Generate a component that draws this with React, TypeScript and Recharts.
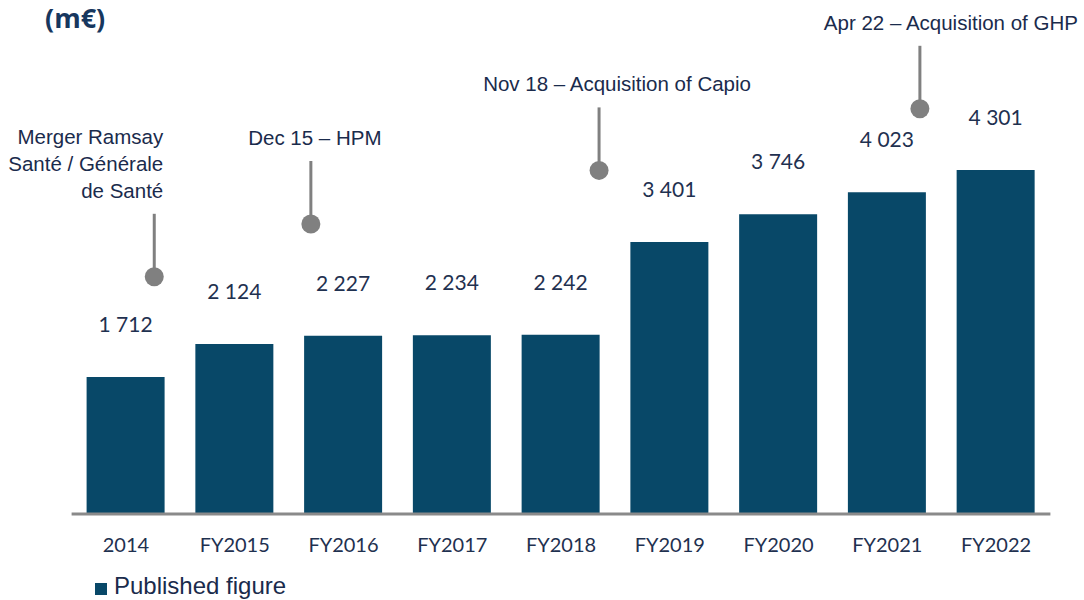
import React from "react";
import {
  ComposedChart,
  Bar,
  Scatter,
  XAxis,
  YAxis,
  LabelList,
  Legend,
} from "recharts";

// ---- Data ----
const years = ["2014", "FY2015", "FY2016", "FY2017", "FY2018", "FY2019", "FY2020", "FY2021", "FY2022"];
const revenue = [1712, 2124, 2227, 2234, 2242, 3401, 3746, 4023, 4301];

const annotationIds = ["merger", "hpm", "capio", "ghp"];
const annotationTexts = [
  ["Merger Ramsay", "Santé / Générale", "de Santé"],
  ["Dec 15 – HPM"],
  ["Nov 18 – Acquisition of Capio"],
  ["Apr 22 – Acquisition of GHP"],
];
// position on the time (category index) axis
const annotationTime = [0.26, 1.7, 4.35, 7.3];
// marker level in m€ units
const annotationLevel = [2965, 3625, 4295, 5065];

const chartData = years.map((y, i) => ({ year: y, value: revenue[i] }));
const annotationData = annotationIds.map((id, i) => ({
  id,
  text: annotationTexts[i],
  t: annotationTime[i],
  level: annotationLevel[i],
}));

// ---- Styles ----
const BAR_COLOR = "#084868";
const TEXT_NAVY = "#1F3150";
const ANNOT_TEXT = "#1A2B4C";
const GREY = "#808080";

const ANNOTATION_STYLE: Record<string, { anchor: "start" | "middle" | "end"; dx: number }> = {
  merger: { anchor: "end", dx: 9 },
  hpm: { anchor: "middle", dx: 4 },
  capio: { anchor: "middle", dx: 18 },
  ghp: { anchor: "middle", dx: 31 },
};

const formatValue = (v: any) => String(v).replace(/\B(?=(\d{3})+(?!\d))/g, " ");

const AnnotationShape = (props: any) => {
  const { cx, cy, payload } = props;
  if (cx == null || cy == null || !payload) return null;
  const st = ANNOTATION_STYLE[payload.id] || { anchor: "middle", dx: 0 };
  const lines: string[] = payload.text || [];
  const lh = 27;
  const lastBaseline = cy - 79;
  return (
    <g>
      <line x1={cx} x2={cx} y1={cy - 63} y2={cy} stroke={GREY} strokeWidth={3} />
      <circle cx={cx} cy={cy} r={9.5} fill={GREY} />
      <text
        textAnchor={st.anchor}
        fill={ANNOT_TEXT}
        fontFamily="'Liberation Sans', Arial, sans-serif"
        fontSize={20.5}
      >
        {lines.map((l, i) => (
          <tspan key={i} x={cx + st.dx} y={lastBaseline - (lines.length - 1 - i) * lh}>
            {l}
          </tspan>
        ))}
      </text>
    </g>
  );
};

const LegendContent = () => (
  <div style={{ position: "relative", height: 28, width: 300 }}>
    <span
      style={{
        position: "absolute",
        left: 0,
        top: 11,
        width: 12,
        height: 12,
        background: BAR_COLOR,
      }}
    />
    <span
      style={{
        position: "absolute",
        left: 19,
        top: 0,
        whiteSpace: "nowrap",
        lineHeight: "28px",
        fontSize: 24,
        fontFamily: "'Liberation Sans', Arial, sans-serif",
        color: ANNOT_TEXT,
      }}
    >
      Published figure
    </span>
  </div>
);

export default function App() {
  return (
    <div
      style={{
        position: "absolute",
        left: 0,
        top: 0,
        width: 1084,
        height: 600,
        background: "#ffffff",
        overflow: "hidden",
      }}
    >
      <div
        style={{
          position: "absolute",
          left: 45,
          top: 4,
          fontFamily: "'Open Sans', sans-serif",
          fontWeight: 700,
          fontSize: 27,
          lineHeight: "27px",
          color: "#17375E",
          whiteSpace: "nowrap",
        }}
      >
        (m€)
      </div>
      <ComposedChart
        width={1084}
        height={600}
        data={chartData}
        margin={{ top: 34, right: 33.6, bottom: 56, left: 71.6 }}
      >
        <XAxis
          dataKey="year"
          type="category"
          height={30}
          axisLine={{ stroke: "#8A8A8A", strokeWidth: 3 }}
          tickLine={false}
          tickSize={6}
          tickMargin={18}
          interval={0}
          tick={{ fill: TEXT_NAVY, fontSize: 20, fontFamily: "Lato, 'Open Sans', sans-serif" }}
        />
        <XAxis
          xAxisId="t"
          dataKey="t"
          type="number"
          domain={[-0.5, 8.5]}
          hide
          height={0}
        />
        <YAxis hide domain={[0, 6000]} type="number" width={0} />
        <Bar dataKey="value" fill={BAR_COLOR} barSize={78} isAnimationActive={false}>
          <LabelList
            dataKey="value"
            position="top"
            offset={45}
            formatter={formatValue}
            fill={TEXT_NAVY}
            fontSize={21}
            fontFamily="Lato, 'Open Sans', sans-serif"
          />
        </Bar>
        <Scatter
          xAxisId="t"
          data={annotationData}
          dataKey="level"
          shape={AnnotationShape}
          legendType="none"
          isAnimationActive={false}
        />
        <Legend
          content={LegendContent}
          wrapperStyle={{
            position: "absolute",
            left: 95,
            top: 572,
            width: 300,
            height: 0,
            overflow: "visible",
          }}
        />
      </ComposedChart>
    </div>
  );
}
